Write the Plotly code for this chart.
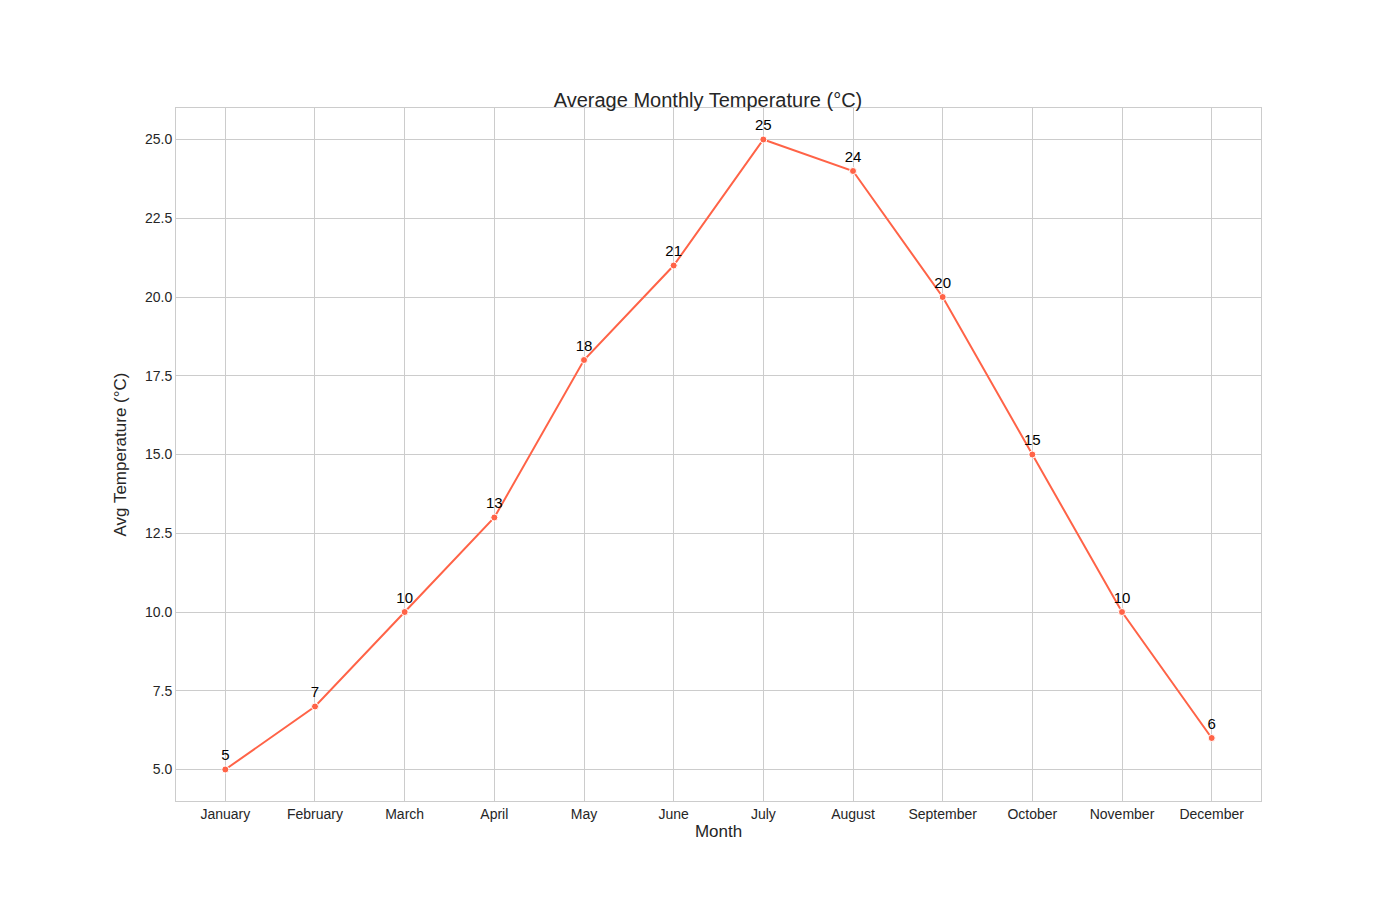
import plotly.graph_objects as go

months = ["January", "February", "March", "April", "May", "June", "July",
          "August", "September", "October", "November", "December"]
avg_temp = [5, 7, 10, 13, 18, 21, 25, 24, 20, 15, 10, 6]
y_ticks = [5.0, 7.5, 10.0, 12.5, 15.0, 17.5, 20.0, 22.5, 25.0]

fig = go.Figure()
fig.add_trace(go.Scatter(
    x=months, y=avg_temp, mode="lines+markers+text",
    line=dict(color="#ff6347", width=2),
    marker=dict(color="#ff6347", size=7, line=dict(color="white", width=1)),
    text=[str(v) for v in avg_temp], textposition="top center",
    textfont=dict(color="black", size=15, family="Liberation Sans"),
    cliponaxis=False,
))

fig.update_layout(
    width=1400, height=900,
    paper_bgcolor="white", plot_bgcolor="white",
    margin=dict(l=168, r=147, t=100, b=107),
    font=dict(family="Liberation Sans, Arial", color="#262626"),
    title=dict(text="Average Monthly Temperature (°C)", x=0.5, xanchor="center",
               y=0.898, yanchor="middle", font=dict(size=20)),
    showlegend=False,
)
fig.update_xaxes(
    title=dict(text="Month", font=dict(size=17), standoff=4),
    tickfont=dict(size=14), showgrid=True, gridcolor="#cccccc",
    showline=True, linecolor="#cccccc", mirror=True, ticks="",
    range=[-0.55, 11.55],
)
fig.update_yaxes(
    title=dict(text="Avg Temperature (°C)", font=dict(size=17), standoff=14),
    tickfont=dict(size=14), showgrid=True, gridcolor="#cccccc",
    showline=True, linecolor="#cccccc", mirror=True, ticks="",
    tickvals=y_ticks, ticktext=[f"{v:.1f}" for v in y_ticks],
    range=[4.0, 26.0], zeroline=False,
)

fig.write_html("out.html")
